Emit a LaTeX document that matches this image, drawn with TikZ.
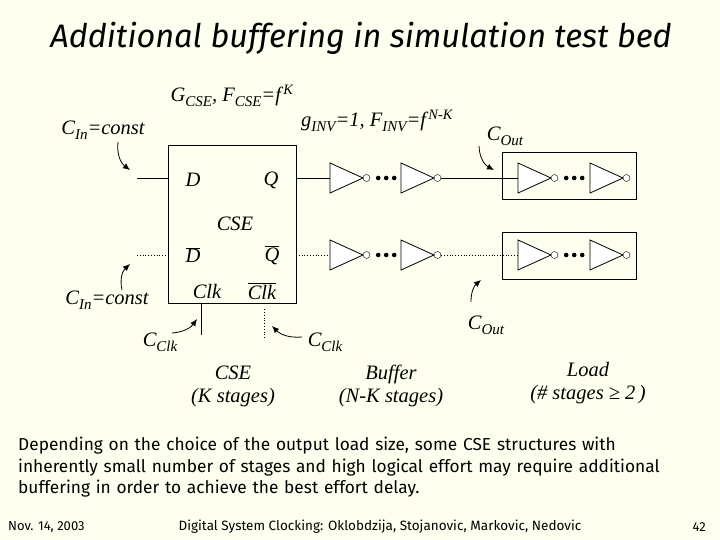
\documentclass[tikz,border=0pt]{standalone}
\usepackage{fontspec}
\setmainfont{Liberation Serif}
\newfontfamily\comic{Fira Sans}
\usetikzlibrary{arrows.meta}
\begin{document}
\begin{tikzpicture}[x=1pt,y=-1pt,
  lab/.style={font=\itshape\fontsize{20.5}{23}\selectfont,inner sep=0},
  wire/.style={line width=0.8pt},
  dwire/.style={line width=0.8pt,dotted},
  arr/.style={-{Latex[length=7pt,width=6pt]},line width=0.8pt},
  bub/.style={circle,draw,inner sep=0,minimum size=7pt,fill=white}]
\definecolor{bg}{HTML}{FFFFF0}
\useasboundingbox (0,0) rectangle (720,540);
\fill[bg] (0,0) rectangle (720,540);
\newcommand{\myinv}[3]{% x, y, name
  \draw[line width=0.8pt,fill=white] (#1,#2-15) -- (#1+33,#2) -- (#1,#2+15) -- cycle;
  \node[bub] (#3) at (#1+36.5,#2) {};}
\newcommand{\threedots}[1]{\fill ([xshift=8pt]#1.east) circle[radius=2.3pt] ([xshift=16pt]#1.east) circle[radius=2.3pt] ([xshift=24pt]#1.east) circle[radius=2.3pt];}
\newcommand{\ovl}[1]{$\overline{\hbox{\itshape #1}}$}
\newcommand{\sub}[1]{\raisebox{-5pt}{\fontsize{15}{15}\selectfont #1}}
\node[draw,line width=0.8pt,minimum width=128pt,minimum height=158pt,inner sep=0] (cse) at (232,224) {};
\node[lab] (d) at (193,180) {D};
\node[lab] (q) at (271,180) {Q};
\node[lab] (c) at (235,224) {CSE};
\node[lab] (db) at (193,255) {\ovl{D}};
\node[lab] (qb) at (272,255) {\ovl{Q}};
\node[lab] (ck) at (207,291) {Clk};
\node[lab] (ckb) at (262,291) {\ovl{Clk}};
\coordinate (din) at (137,178); \coordinate (dbin) at (137,255);
\draw[wire] (din) -- (din -| cse.west);
\draw[dwire] (dbin) -- (dbin -| cse.west);
\coordinate (clk) at (201,335); \coordinate (clkb) at (264,338);
\draw[wire] (clk) -- (clk |- cse.south);
\draw[dwire] (clkb) -- (264,308);
% rows
\foreach \y/\s in {178/wire,255/dwire}{
  \draw[\s] (296,\y) -- (330,\y);
  \myinv{330}{\y}{a}\threedots{a}
  \myinv{401}{\y}{b}
  \draw[\s] (b.east) -- (518,\y);
  \myinv{518}{\y}{c}\threedots{c}
  \myinv{590}{\y}{e}
}
\node[draw,line width=1pt,minimum width=134pt,minimum height=47pt,inner sep=0] (L1) at (569,176.5) {};
\node[draw,line width=1pt,minimum width=134pt,minimum height=47pt,inner sep=0] (L2) at (569,256) {};
% labels
\node[lab] (cin1) at (103,130) {C\sub{In}=const};
\draw[arr] (118,142) to[bend right=30] (130,170);
\node[lab] (cin2) at (107,300) {C\sub{In}=const};
\draw[arr] (122,290) to[bend left=30] (130,264);
\node[lab] (cc1) at (160,342) {C\sub{Clk}};
\draw[arr] (172,333) to[bend right=25] (197,319);
\node[lab] (cc2) at (325,342) {C\sub{Clk}};
\draw[arr] (302,337) to[bend left=25] (272,326);
\node[lab] (co1) at (505,136) {C\sub{Out}};
\draw[arr] (479,146) to[bend right=30] (494,170);
\node[lab] (co2) at (486,325) {C\sub{Out}};
\draw[arr] (471,302) to[bend left=25] (481,280);
\node[lab] (g) at (232,96) {G\sub{CSE}, F\sub{CSE}=f\textsuperscript{\,K}};
\node[lab] (gi) at (377,121) {g\sub{INV}=1, F\sub{INV}=f\textsuperscript{\,N-K}};
\node[lab,align=center] (t1) at (233,386) {CSE\\(K stages)};
\node[lab,align=center] (t2) at (391,386) {Buffer\\(N-K stages)};
\node[lab,align=center] (t3) at (588,383) {Load\\(\# stages ≥ 2\,)};
% title & text
\node[font=\comic\itshape\fontsize{32.5}{35}\selectfont,inner sep=0] (title) at (361,38) {Additional buffering in simulation test bed};
\node[font=\comic\fontsize{17.3}{21.5}\selectfont,align=left,anchor=north west,inner sep=0,text width=700pt] (para) at (18,437) {Depending on the choice of the output load size, some CSE structures with\\ inherently small number of stages and high logical effort may require additional\\ buffering in order to achieve the best effort delay.};
\node[font=\comic\fontsize{13}{15}\selectfont,anchor=west,inner sep=0] (f1) at (8,527) {Nov. 14, 2003};
\node[font=\comic\fontsize{13.5}{15}\selectfont,inner sep=0] (f2) at (380,527) {Digital System Clocking: Oklobdzija, Stojanovic, Markovic, Nedovic};
\node[font=\comic\fontsize{13}{15}\selectfont,anchor=east,inner sep=0] (f3) at (706,527) {42};
\end{tikzpicture}
\end{document}
